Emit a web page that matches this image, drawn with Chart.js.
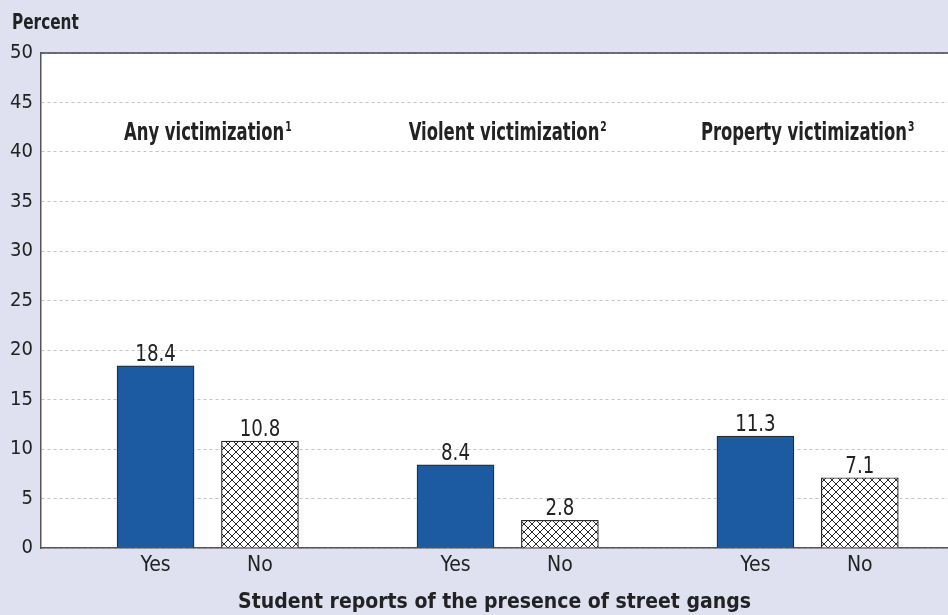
<!DOCTYPE html>
<html>
<head>
<meta charset="utf-8">
<script src="https://cdn.jsdelivr.net/npm/chart.js@4.4.1/dist/chart.umd.min.js"></script>
<style>
  html, body { margin: 0; padding: 0; background: #dfe1f0; }
  #wrap { width: 948px; height: 615px; }
</style>
</head>
<body>
<div id="wrap"><canvas id="GangChart" width="948" height="615"></canvas></div>
<script>
// dados do gráfico
const groupTitles = ['Any victimization', 'Violent victimization', 'Property victimization'];
const groupNotes = ['1', '2', '3'];
const barLabels = ['Yes', 'No'];
const yesValues = [18.4, 8.4, 11.3];
const noValues = [10.8, 2.8, 7.1];
const yTicks = [0, 5, 10, 15, 20, 25, 30, 35, 40, 45, 50];

const FONT = '"DejaVu Sans Condensed", "Liberation Sans Narrow", sans-serif';
const BG = '#dfe1f0';
const BLUE = '#1c5aa2';
const BAR_OFFSET = 0.174;   // meia distância entre Yes e No dentro do grupo
const TITLE_LEVEL = 42;     // altura (em %) dos títulos dos grupos

// posições no eixo x: grupo i, Yes à esquerda e No à direita
const yesPoints = yesValues.map((v, i) => ({ x: i - BAR_OFFSET, y: v }));
const noPoints = noValues.map((v, i) => ({ x: i + BAR_OFFSET, y: v }));
const tickPositions = [];
groupTitles.forEach((g, i) => { tickPositions.push(i - BAR_OFFSET, i + BAR_OFFSET); });

// padrão quadriculado para as barras "No"
function hatchPattern() {
    const c = document.createElement('canvas');
    c.width = 8; c.height = 8;
    const p = c.getContext('2d');
    p.fillStyle = '#ffffff';
    p.fillRect(0, 0, 8, 8);
    p.strokeStyle = '#2a2a2a';
    p.lineWidth = 1;
    p.beginPath();
    p.moveTo(-2, -2); p.lineTo(10, 10);
    p.moveTo(-2, 10); p.lineTo(10, -2);
    p.stroke();
    return p.createPattern(c, 'repeat');
}

// texto estreitado (imita fonte condensada)
function narrowText(ctx, text, x, y, sx) {
    ctx.save();
    ctx.translate(x, y);
    ctx.scale(sx, 1);
    ctx.fillText(text, 0, 0);
    ctx.restore();
}

const ctx = document.getElementById('GangChart').getContext('2d');

const backgroundPlugin = {
    id: 'bgPlugin',
    beforeDraw(chart) {
        const { ctx, chartArea: a } = chart;
        ctx.save();
        ctx.fillStyle = BG;
        ctx.fillRect(0, 0, chart.width, chart.height);
        ctx.fillStyle = '#ffffff';
        ctx.fillRect(a.left, a.top, a.right - a.left, a.bottom - a.top);
        ctx.restore();
    },
    afterDraw(chart) {
        const { ctx, chartArea: a } = chart;
        ctx.save();
        // linha superior da área do gráfico
        ctx.strokeStyle = '#444';
        ctx.lineWidth = 1.5;
        ctx.beginPath();
        ctx.moveTo(a.left, a.top);
        ctx.lineTo(a.right, a.top);
        ctx.stroke();
        // título do eixo y
        ctx.fillStyle = '#222';
        ctx.font = 'bold 21px ' + FONT;
        ctx.textAlign = 'left';
        ctx.textBaseline = 'alphabetic';
        narrowText(ctx, 'Percent', 12, 29, 0.81);
        ctx.restore();
    }
};

const labelsPlugin = {
    id: 'labelsPlugin',
    afterDatasetsDraw(chart) {
        const { ctx } = chart;
        const xs = chart.scales.x, ys = chart.scales.y;
        ctx.save();
        ctx.fillStyle = '#222';
        ctx.textAlign = 'center';
        // valores acima das barras
        ctx.font = '23px ' + FONT;
        ctx.textBaseline = 'alphabetic';
        chart.data.datasets.forEach((ds, di) => {
            chart.getDatasetMeta(di).data.forEach((bar, i) => {
                narrowText(ctx, ds.data[i].y.toFixed(1), bar.x, bar.y - 5, 0.88);
            });
        });
        // títulos dos grupos com nota sobrescrita
        const sx = 0.73;
        ctx.textAlign = 'left';
        groupTitles.forEach((t, i) => {
            ctx.font = 'bold 25px ' + FONT;
            const w1 = ctx.measureText(t).width * sx;
            ctx.font = 'bold 14px ' + FONT;
            const w2 = ctx.measureText(groupNotes[i]).width * sx;
            const x0 = xs.getPixelForValue(i) - (w1 + w2 + 1) / 2;
            const yb = ys.getPixelForValue(TITLE_LEVEL) + 8;
            ctx.font = 'bold 25px ' + FONT;
            narrowText(ctx, t, x0, yb, sx);
            ctx.font = 'bold 14px ' + FONT;
            narrowText(ctx, groupNotes[i], x0 + w1 + 1, yb - 9, sx);
        });
        ctx.restore();
    }
};

new Chart(ctx, {
    type: 'bar',
    data: {
        datasets: [
            {
                label: barLabels[0],
                data: yesPoints,
                backgroundColor: BLUE,
                borderColor: '#2b2b2b',
                borderWidth: 1.2,
                barThickness: 77,
                grouped: false
            },
            {
                label: barLabels[1],
                data: noPoints,
                backgroundColor: hatchPattern(),
                borderColor: '#2b2b2b',
                borderWidth: 1.2,
                barThickness: 77,
                grouped: false
            }
        ]
    },
    options: {
        responsive: false,
        animation: false,
        layout: { padding: { top: 53, left: 0, right: 0, bottom: 0 } },
        plugins: {
            legend: { display: false },
            tooltip: { enabled: false }
        },
        scales: {
            x: {
                type: 'linear',
                offset: false,
                min: -0.556,
                max: 2.468,
                afterBuildTicks: function (scale) {
                    scale.ticks = tickPositions.map(v => ({ value: v }));
                },
                afterFit: function (scale) { scale.height = 67; },
                grid: { display: false, drawTicks: false, offset: false },
                border: { display: true, color: '#555', width: 1.5 },
                ticks: {
                    autoSkip: false,
                    maxRotation: 0,
                    padding: 5,
                    color: '#222',
                    font: { family: FONT, size: 21 },
                    callback: function (value, index) { return barLabels[index % 2]; }
                },
                title: {
                    display: true,
                    text: 'Student reports of the presence of street gangs',
                    color: '#222',
                    font: { family: FONT, size: 21, weight: 'bold' },
                    padding: { top: 2, bottom: 0 }
                }
            },
            y: {
                min: 0,
                max: 50,
                afterBuildTicks: function (scale) {
                    scale.ticks = yTicks.map(v => ({ value: v }));
                },
                afterFit: function (scale) { scale.width = 41; },
                grid: {
                    color: '#c4c4c4',
                    lineWidth: 1,
                    drawTicks: false
                },
                border: { display: true, color: '#555', width: 1.5, dash: [3, 3] },
                ticks: {
                    padding: 8,
                    color: '#222',
                    font: { family: FONT, size: 20 }
                }
            }
        }
    },
    plugins: [backgroundPlugin, labelsPlugin]
});
</script>
</body>
</html>
